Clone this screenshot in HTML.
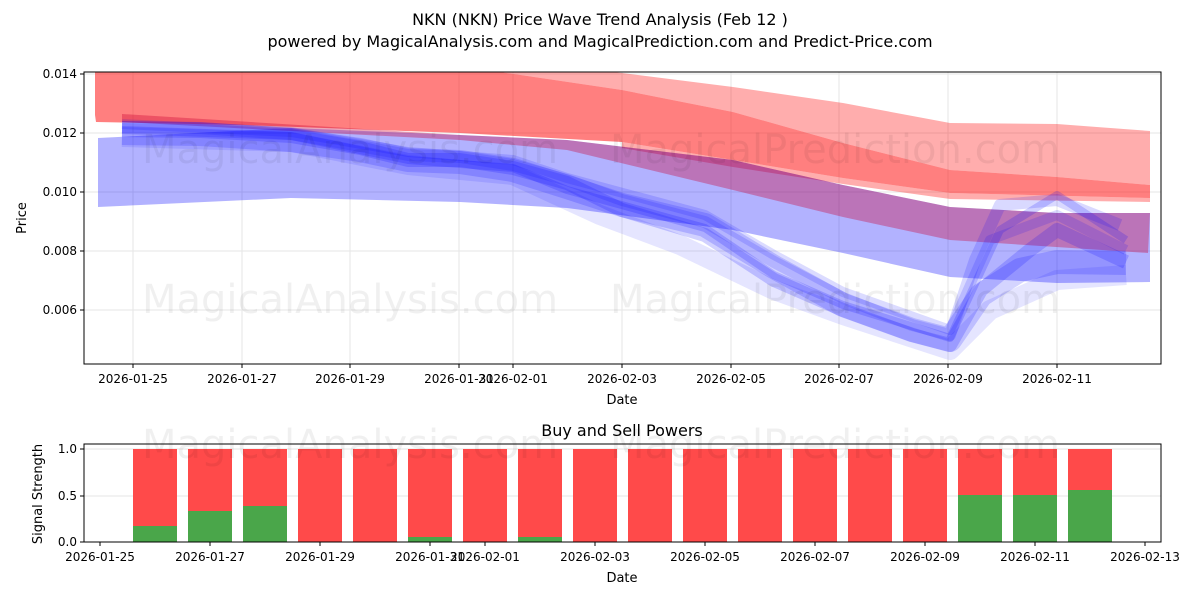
<!DOCTYPE html>
<html><head><meta charset="utf-8"><style>
body{margin:0;background:#fff;}
svg text{font-family:"DejaVu Sans","Liberation Sans",sans-serif;fill:#000;}
</style></head><body>
<svg width="1200" height="600" viewBox="0 0 1200 600" xmlns="http://www.w3.org/2000/svg">
<rect width="1200" height="600" fill="#fff"/>
<text x="600" y="25" font-size="16" text-anchor="middle">NKN (NKN) Price Wave Trend Analysis (Feb 12 )</text>
<text x="600" y="47" font-size="16" text-anchor="middle">powered by MagicalAnalysis.com and MagicalPrediction.com and Predict-Price.com</text>
<g stroke="#e6e6e6" stroke-width="1">
<line x1="133" y1="72" x2="133" y2="364"/><line x1="242" y1="72" x2="242" y2="364"/><line x1="350" y1="72" x2="350" y2="364"/><line x1="459" y1="72" x2="459" y2="364"/><line x1="513" y1="72" x2="513" y2="364"/><line x1="622" y1="72" x2="622" y2="364"/><line x1="731" y1="72" x2="731" y2="364"/><line x1="839" y1="72" x2="839" y2="364"/><line x1="948" y1="72" x2="948" y2="364"/><line x1="1057" y1="72" x2="1057" y2="364"/>
<line x1="84" y1="74" x2="1161" y2="74"/><line x1="84" y1="133" x2="1161" y2="133"/><line x1="84" y1="192" x2="1161" y2="192"/><line x1="84" y1="251" x2="1161" y2="251"/><line x1="84" y1="310" x2="1161" y2="310"/>
</g>
<svg x="84" y="72" width="1077" height="292" viewBox="84 72 1077 292" overflow="hidden">
<polygon fill="#ff0000" fill-opacity="0.32" points="500,60 622,73 733,87 843,103 950,123 1057,124 1150,131 1150,185 1057,177 950,170 843,143 733,112 622,90 500,72"/>
<polygon fill="#ff0000" fill-opacity="0.32" points="622,142 733,160 843,178 950,193 1150,198 1150,202 950,199 843,184 733,167 622,148"/>
<polygon fill="#ff0000" fill-opacity="0.5" points="95,60 500,60 500,72 622,90 733,112 843,143 950,170 1057,177 1150,185 1150,198 950,193 843,178 733,160 622,142 460,133 243,125 96,122 95,115"/>
<polygon fill="#0000ff" fill-opacity="0.3" points="98,138 291,128 460,135 567,140 733,160 843,185 950,207 1057,213 1150,213 1150,282 1057,283 950,277 843,253 733,230 567,208 460,202 291,198 98,207"/>
<polygon fill="#cc0033" fill-opacity="0.35" points="122,114 460,135 567,140 733,160 843,185 950,207 1057,213 1150,213 1148,253 950,240 843,217 733,190 567,150 460,140 122,122"/>
<g fill="none" stroke="#0000ff" stroke-linejoin="round">
<polyline stroke-opacity="0.17" stroke-width="24" points="122,133 200,134 291,140 360,150 408,160 460,162 513,170 567,187 622,205 705,225 774,267 843,305 912,330 950,340 981,295 1020,270 1057,262 1126,263"/>
<polyline stroke-opacity="0.18" stroke-width="14" points="122,130 200,131 291,136 360,148 408,160 460,160 513,168 567,183 622,210 705,235 774,280 843,310 912,335 950,345 981,290 1030,250 1057,230 1126,262"/>
<polyline stroke-opacity="0.15" stroke-width="12" points="122,127 200,128 291,134 360,146 408,155 460,157 513,165 567,180 622,200 705,222 774,262 843,298 912,325 950,335 975,260 1000,205 1057,200 1120,225"/>
<polyline stroke-opacity="0.1" stroke-width="20" points="122,137 291,142 408,165 513,175 600,215 680,245 774,290 843,315 950,350 990,310 1057,280 1126,275"/>
<polyline stroke-opacity="0.18" stroke-width="8" points="122,130 291,136 408,160 513,168 567,190 705,228 774,275 843,305 950,338 1000,230 1057,195 1126,240"/>
<polyline stroke-opacity="0.14" stroke-width="10" points="122,124 291,132 408,152 513,160 567,178 705,215 774,255 843,292 950,330 990,240 1057,215 1126,250"/>
</g>
</svg>
<text x="350" y="163" font-size="40" text-anchor="middle" style="fill-opacity:0.06">MagicalAnalysis.com</text>
<text x="835" y="163" font-size="40" text-anchor="middle" style="fill-opacity:0.06">MagicalPrediction.com</text>
<text x="350" y="313" font-size="40" text-anchor="middle" style="fill-opacity:0.06">MagicalAnalysis.com</text>
<text x="835" y="313" font-size="40" text-anchor="middle" style="fill-opacity:0.06">MagicalPrediction.com</text>
<rect x="84" y="72" width="1077" height="292" fill="none" stroke="#000" stroke-width="1"/>
<g stroke="#000">
<line x1="80" y1="74" x2="84" y2="74"/><line x1="80" y1="133" x2="84" y2="133"/><line x1="80" y1="192" x2="84" y2="192"/><line x1="80" y1="251" x2="84" y2="251"/><line x1="80" y1="310" x2="84" y2="310"/>
<line x1="133" y1="364" x2="133" y2="368"/><line x1="242" y1="364" x2="242" y2="368"/><line x1="350" y1="364" x2="350" y2="368"/><line x1="459" y1="364" x2="459" y2="368"/><line x1="513" y1="364" x2="513" y2="368"/><line x1="622" y1="364" x2="622" y2="368"/><line x1="731" y1="364" x2="731" y2="368"/><line x1="839" y1="364" x2="839" y2="368"/><line x1="948" y1="364" x2="948" y2="368"/><line x1="1057" y1="364" x2="1057" y2="368"/>
</g>
<g font-size="12" text-anchor="end">
<text x="77" y="78">0.014</text><text x="77" y="137">0.012</text><text x="77" y="196">0.010</text><text x="77" y="255">0.008</text><text x="77" y="314">0.006</text>
</g>
<g font-size="12" text-anchor="middle">
<text x="133" y="383">2026-01-25</text><text x="242" y="383">2026-01-27</text><text x="350" y="383">2026-01-29</text><text x="459" y="383">2026-01-31</text><text x="513" y="383">2026-02-01</text><text x="622" y="383">2026-02-03</text><text x="731" y="383">2026-02-05</text><text x="839" y="383">2026-02-07</text><text x="948" y="383">2026-02-09</text><text x="1057" y="383">2026-02-11</text>
</g>
<text x="622" y="404" font-size="13" text-anchor="middle">Date</text>
<text x="26" y="218" font-size="13" text-anchor="middle" transform="rotate(-90 26 218)">Price</text>

<text x="622" y="436" font-size="16" text-anchor="middle">Buy and Sell Powers</text>
<g stroke="#e6e6e6"><line x1="84" y1="449" x2="1161" y2="449"/><line x1="84" y1="496" x2="1161" y2="496"/></g>
<g fill="#ff4a4a">
<rect x="133" y="449" width="44" height="93"/><rect x="188" y="449" width="44" height="93"/><rect x="243" y="449" width="44" height="93"/><rect x="298" y="449" width="44" height="93"/><rect x="353" y="449" width="44" height="93"/><rect x="408" y="449" width="44" height="93"/><rect x="463" y="449" width="44" height="93"/><rect x="518" y="449" width="44" height="93"/><rect x="573" y="449" width="44" height="93"/><rect x="628" y="449" width="44" height="93"/><rect x="683" y="449" width="44" height="93"/><rect x="738" y="449" width="44" height="93"/><rect x="793" y="449" width="44" height="93"/><rect x="848" y="449" width="44" height="93"/><rect x="903" y="449" width="44" height="93"/><rect x="958" y="449" width="44" height="93"/><rect x="1013" y="449" width="44" height="93"/><rect x="1068" y="449" width="44" height="93"/>
</g>
<g fill="#4aa64a">
<rect x="133" y="526" width="44" height="16"/><rect x="188" y="511" width="44" height="31"/><rect x="243" y="506" width="44" height="36"/><rect x="408" y="537" width="44" height="5"/><rect x="518" y="537" width="44" height="5"/><rect x="958" y="495" width="44" height="47"/><rect x="1013" y="495" width="44" height="47"/><rect x="1068" y="490" width="44" height="52"/>
</g>
<text x="350" y="458" font-size="40" text-anchor="middle" style="fill-opacity:0.06">MagicalAnalysis.com</text>
<text x="835" y="458" font-size="40" text-anchor="middle" style="fill-opacity:0.06">MagicalPrediction.com</text>
<rect x="84" y="444" width="1077" height="98" fill="none" stroke="#000"/>
<g stroke="#000">
<line x1="80" y1="449" x2="84" y2="449"/><line x1="80" y1="496" x2="84" y2="496"/><line x1="80" y1="542" x2="84" y2="542"/>
<line x1="100" y1="542" x2="100" y2="546"/><line x1="210" y1="542" x2="210" y2="546"/><line x1="320" y1="542" x2="320" y2="546"/><line x1="430" y1="542" x2="430" y2="546"/><line x1="485" y1="542" x2="485" y2="546"/><line x1="595" y1="542" x2="595" y2="546"/><line x1="705" y1="542" x2="705" y2="546"/><line x1="815" y1="542" x2="815" y2="546"/><line x1="925" y1="542" x2="925" y2="546"/><line x1="1035" y1="542" x2="1035" y2="546"/><line x1="1145" y1="542" x2="1145" y2="546"/>
</g>
<g font-size="12" text-anchor="end"><text x="77" y="453">1.0</text><text x="77" y="500">0.5</text><text x="77" y="546">0.0</text></g>
<g font-size="12" text-anchor="middle">
<text x="100" y="561">2026-01-25</text><text x="210" y="561">2026-01-27</text><text x="320" y="561">2026-01-29</text><text x="430" y="561">2026-01-31</text><text x="485" y="561">2026-02-01</text><text x="595" y="561">2026-02-03</text><text x="705" y="561">2026-02-05</text><text x="815" y="561">2026-02-07</text><text x="925" y="561">2026-02-09</text><text x="1035" y="561">2026-02-11</text><text x="1145" y="561">2026-02-13</text>
</g>
<text x="622" y="582" font-size="13" text-anchor="middle">Date</text>
<text x="42" y="494" font-size="13" text-anchor="middle" transform="rotate(-90 42 494)">Signal Strength</text>
</svg>
</body></html>
